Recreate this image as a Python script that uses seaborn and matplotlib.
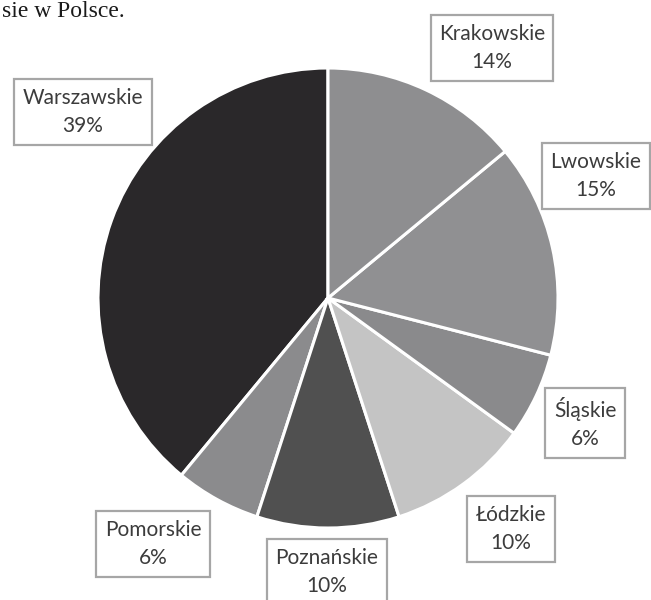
import matplotlib
matplotlib.use("Agg")
import matplotlib.pyplot as plt
import seaborn as sns

# ---- data ----
regions = ["Warszawskie", "Pomorskie", "Poznańskie", "Łódzkie", "Śląskie", "Lwowskie", "Krakowskie"]
shares = [39, 6, 10, 10, 6, 15, 14]
slice_colors = ["#2a282a", "#8b8b8d", "#505050", "#c4c4c4", "#8a8a8c", "#909092", "#8e8e90"]
title_text = "sie w Polsce."

# label box centres (pixel layout, y from top)
label_pos = [(83, 112), (153, 544), (327, 572), (511, 529), (585, 423), (596, 176), (492, 48)]

sns.set_theme(style="white")
plt.rcParams["font.family"] = ["Lato", "DejaVu Sans"]

W, H = 651, 600
fig = plt.figure(figsize=(W / 100, H / 100), dpi=100)
ax = fig.add_axes([0, 0, 1, 1])

palette = sns.color_palette(slice_colors)
ax.pie(shares, colors=palette, startangle=90, counterclock=True,
       center=(328, H - 298), radius=230,
       wedgeprops=dict(edgecolor="white", linewidth=2.2), frame=True)
ax.set_xlim(0, W)
ax.set_ylim(0, H)
ax.set_aspect("equal")
ax.axis("off")

for name, val, (px, py) in zip(regions, shares, label_pos):
    ax.text(px, H - py, f"{name}\n{val}%", ha="center", va="center",
            fontsize=15, color="#3c3c3c", linespacing=1.55,
            bbox=dict(boxstyle="square,pad=0.4", facecolor="white",
                      edgecolor="#a6a6a6", linewidth=1.6))

fig.text(2 / W, 1 - 17 / H, title_text, ha="left", va="baseline",
         fontsize=17, color="#1a1a1a", family=["Liberation Serif", "DejaVu Serif"])

fig.savefig("out.png", dpi=100)
